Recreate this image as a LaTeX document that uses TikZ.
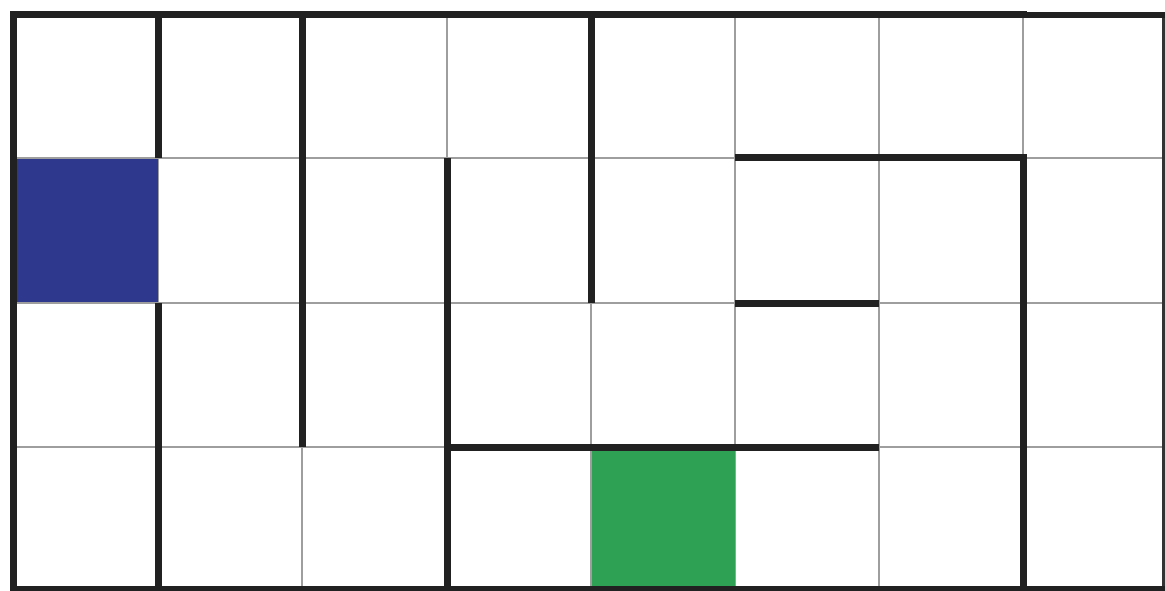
\documentclass[tikz,border=0pt]{standalone}
\begin{document}
\begin{tikzpicture}[x=1pt,y=-1pt,
  gridline/.style={draw=black!38, line width=1.5pt},
  wall/.style={draw=black!87, line width=7pt},
  bwall/.style={wall, line cap=rect},
  borderthin/.style={draw=black!80, line width=3pt}]
\useasboundingbox (0,0) rectangle (1165,591);
\fill[white] (0,0) rectangle (1165,591);
% coloured cells
\fill[fill={rgb,255:red,46;green,56;blue,140}] (13,158) rectangle (158,303);
\fill[fill={rgb,255:red,46;green,161;blue,84}] (591,447) rectangle (735,588);
% thin grid
\foreach \x in {158,302,447,591,735,879,1023} \draw[gridline] (\x,15) -- (\x,588);
\foreach \y in {158,303,447} \draw[gridline] (13,\y) -- (1163,\y);
% recolour overlaps in coloured cells
\fill[fill={rgb,255:red,46;green,56;blue,140}] (14,159) rectangle (157.5,302);
\fill[fill={rgb,255:red,46;green,161;blue,84}] (592,448) rectangle (734.5,588);
% borders
\draw[borderthin] (1163,15) -- (1163,589);
\draw[bwall, line width=6pt] (1023,15) -- (1163,15);
\draw[bwall] (13,15) -- (1023,15);
\draw[bwall] (13,15) -- (13,589);
\draw[bwall, line width=6pt] (13,589) -- (1163,589);
% inner walls
\draw[wall] (158,15) -- (158,158);
\draw[wall] (158,303) -- (158,588);
\draw[wall] (302,15) -- (302,447);
\draw[wall] (447,158) -- (447,588);
\draw[wall] (591,15) -- (591,303);
\draw[wall] (735,158) -- (1023,158) -- (1023,588);
\draw[wall] (735,303) -- (879,303);
\draw[wall] (447,447) -- (879,447);
\end{tikzpicture}
\end{document}
